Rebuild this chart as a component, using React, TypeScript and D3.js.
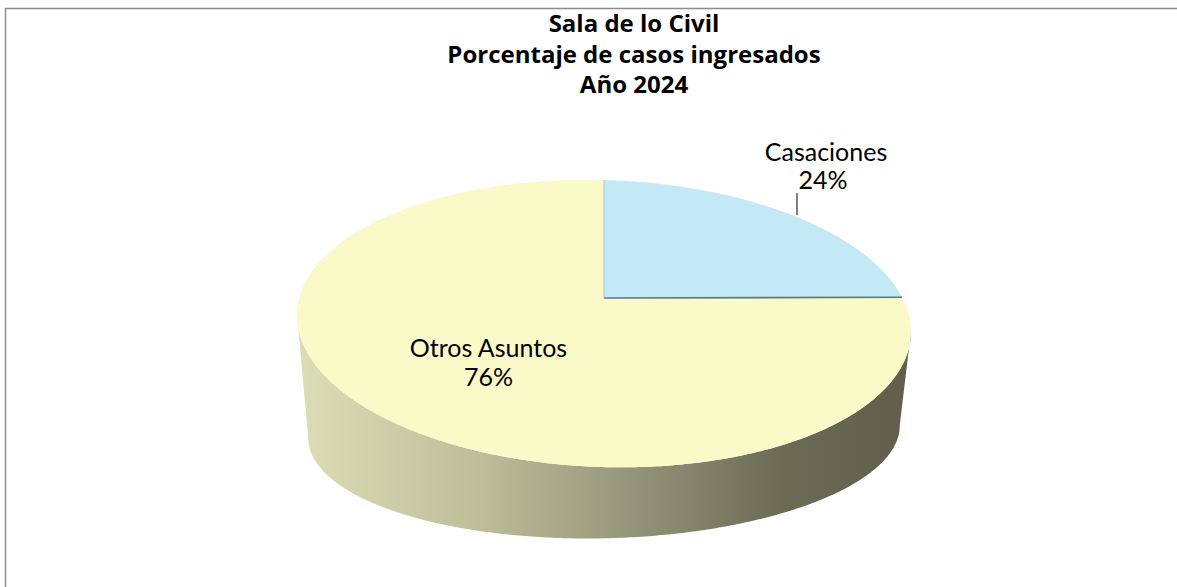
import React from 'react';
import * as d3 from 'd3';

// datos del gráfico
const categories = ['Casaciones', 'Otros Asuntos'];
const percentages = [24, 76];
const sliceColors = ['#c3e9f7', '#faf9c8'];
const titleLines = ['Sala de lo Civil', 'Porcentaje de casos ingresados', 'Año 2024'];

const W = 1177;
const H = 587;
// pie "3D": centro, radios y perspectiva (cara superior / cara inferior)
const cx = 604;
const cy = 298;
const persp = 0.178;
const topFace = { rx: 302, ry: 139, dy: 0, tilt: 8 };
const bottomFace = { rx: 291, ry: 103, dy: 115, tilt: -6 };

type Face = typeof topFace;

const project = (theta: number, r: number, f: Face): [number, number] => {
  const u = r * Math.sin(theta);
  const v = -r * Math.cos(theta);
  const w = 1 - persp * v;
  return [cx + (f.rx * u) / w, cy + f.dy + (f.ry * v + f.tilt * u) / w];
};

const arcPoints = (a0: number, a1: number, f: Face) => {
  const n = Math.max(2, Math.ceil(Math.abs(a1 - a0) / 0.01));
  return d3.range(n + 1).map(i => project(a0 + ((a1 - a0) * i) / n, 1, f));
};

const App: React.FC = () => {
  const pie = d3.pie<number>().sort(null).value(d => d);
  const arcs = pie(percentages);
  const line = d3.line();

  // límites visibles del costado
  const thR = Math.acos(-persp);
  const thL = 2 * Math.PI - thR;

  const sides = arcs
    .map((a, i) => {
      const s = Math.max(a.startAngle, thR);
      const e = Math.min(a.endAngle, thL);
      if (e <= s) return null;
      const top = arcPoints(s, e, topFace);
      const bottom = arcPoints(e, s, bottomFace);
      return { i, d: line([...top, ...bottom])! + 'Z' };
    })
    .filter(Boolean) as { i: number; d: string }[];

  const tops = arcs.map((a, i) => {
    const pts: [number, number][] = [project(0, 0, topFace), ...arcPoints(a.startAngle, a.endAngle, topFace)];
    return { i, d: line(pts)! + 'Z' };
  });

  const titleFont = "'Gill Sans MT', 'Gill Sans', 'Open Sans', sans-serif";
  const font = "'Gill Sans MT', 'Gill Sans', Lato, sans-serif";

  // etiquetas
  const casa = arcs[0];
  const casaMid = (casa.startAngle + casa.endAngle) / 2;
  const [lx0, ly0] = project(casaMid, 1.0, topFace);
  const leaderX = lx0 + 10;
  const otros = arcs[1];
  const otrosMid = (otros.startAngle + otros.endAngle) / 2;
  const [ox, oy] = project(otrosMid, 0.5, topFace);

  return (
    <svg width={W} height={H} style={{ position: 'absolute', left: 0, top: 0, background: '#fff' }}>
      <defs>
        <linearGradient id="sideGrad" gradientUnits="userSpaceOnUse" x1={cx - topFace.rx} x2={cx + topFace.rx} y1={0} y2={0}>
          <stop offset="0" stopColor="#dcdcb6" />
          <stop offset="0.3" stopColor="#bdbd9a" />
          <stop offset="0.55" stopColor="#94947a" />
          <stop offset="0.8" stopColor="#6a6a55" />
          <stop offset="1" stopColor="#5f5f4b" />
        </linearGradient>
      </defs>
      <rect x={5.5} y={8.5} width={W + 10} height={H + 10} fill="#fff" stroke="#8c8c8c" strokeWidth={1.5} />

      {titleLines.map((t, i) => (
        <text key={t} x={634} y={32 + i * 30.5} textAnchor="middle" fontFamily={titleFont} fontWeight="bold" fontSize={24} fill="#000">
          {t}
        </text>
      ))}

      {sides.map(s => (
        <path key={'s' + s.i} d={s.d} fill="url(#sideGrad)" />
      ))}
      {tops.map(t => (
        <path key={'t' + t.i} d={t.d} fill={sliceColors[t.i]} />
      ))}
      {/* borde del corte entre porciones */}
      <path
        d={line([project(0, 0, topFace), project(casa.endAngle, 1, topFace)])!}
        stroke="#5f7777"
        strokeWidth={1.6}
        fill="none"
      />
      <path d={line([project(0, 0, topFace), project(0, 1, topFace)])!} stroke="#b0c8d0" strokeWidth={1} fill="none" />

      <line x1={leaderX} y1={ly0 + 2} x2={leaderX} y2={ly0 - 20} stroke="#000" strokeWidth={1} />
      <text fontFamily={font} fontSize={25} textAnchor="middle" fill="#000">
        <tspan x={826} y={161}>{categories[0]}</tspan>
        <tspan x={823} y={189}>{percentages[0]}%</tspan>
      </text>
      <text fontFamily={font} fontSize={25} textAnchor="middle" fill="#000">
        <tspan x={ox - 5} y={oy + 8}>{categories[1]}</tspan>
        <tspan x={ox - 5} y={oy + 37}>{percentages[1]}%</tspan>
      </text>
    </svg>
  );
};

export default App;
